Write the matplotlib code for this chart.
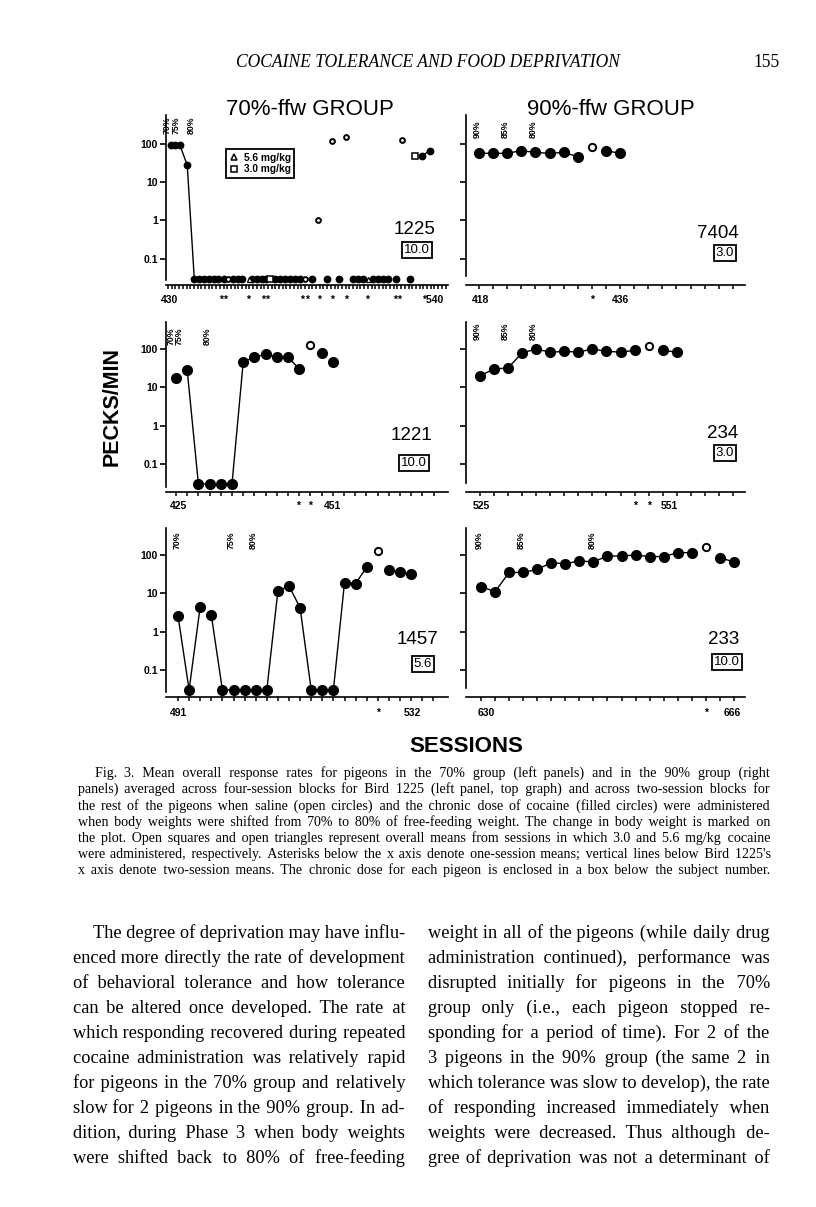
#!/usr/bin/env python3
"""
Fig. 3 page: pecks/min across sessions for the 70%-ffw and 90%-ffw groups,
with the figure caption and the running text below it.
"""
import matplotlib
matplotlib.use("Agg")
import matplotlib.pyplot as plt
from matplotlib import font_manager
from matplotlib.ft2font import FT2Font
from matplotlib.lines import Line2D
from matplotlib.ticker import NullLocator
from matplotlib.transforms import blended_transform_factory

W, H = 816, 1207
FLOOR = 0.03          # zero rates sit on this floor
SANS = "Liberation Sans"
SERIF = "Liberation Serif"

# ---------------- data ----------------
# x: position along the session axis in axis ticks, y: pecks/min (0 = no pecking)

# Bird 1225, 70% group (four-session blocks)
b1225_fx = [0.8, 2.0, 3.2, 5.2, 7.1, 8.4, 9.7, 11.1, 12.3, 13.6, 15.0, 17.6, 18.8,
            20.1, 22.7, 24.0, 25.3, 26.4, 28.9, 30.3, 31.6, 33.0, 34.3, 35.7, 39.0,
            42.9, 46.1, 50.1, 51.4, 52.8, 55.5, 56.8, 58.2, 59.5, 61.5, 65.4, 68.6, 70.8]
b1225_fy = [94, 94, 94, 28, 0, 0, 0, 0, 0, 0, 0, 0, 0,
            0, 0, 0, 0, 0, 0, 0, 0, 0, 0, 0, 0,
            0, 0, 0, 0, 0, 0, 0, 0, 0, 0, 0, 49, 67]
b1225_ox = [16.2, 37.0, 40.6, 44.4, 48.1, 63.2]
b1225_oy = [0, 0, 1.0, 122, 155, 127]
b1225_tri_x = [21.9, 54.1]        # 5.6 mg/kg
b1225_tri_y = [0, 0]
b1225_sq_x = [27.6, 66.8]         # 3.0 mg/kg
b1225_sq_y = [0, 49]
b1225_runs = [(0, 5), (36, 38)]
b1225_stars = [14.2, 15.4, 21.7, 25.8, 26.8, 36.1, 37.5, 40.9, 44.4, 48.1, 53.7, 61.4, 62.5]

# Bird 1221, 70% group
b1221_fx = [0, 1, 2, 3, 4, 5, 6, 7, 8, 9, 10, 11, 13, 14]
b1221_fy = [18, 28, 0, 0, 0, 0, 45, 62, 72, 62, 62, 30, 80, 45]
b1221_ox = [12]
b1221_oy = [130]
b1221_runs = [(1, 12)]
b1221_stars = [10.9, 12.0]

# Bird 1457, 70% group
b1457_fx = [0, 1, 2, 3, 4, 5, 6, 7, 8, 9, 10, 11, 12, 13, 14, 15, 16, 17, 19, 20, 21]
b1457_fy = [2.6, 0, 4.5, 2.7, 0, 0, 0, 0, 0, 11.5, 15.5, 4.2, 0, 0, 0, 19, 18, 48, 41, 35, 32]
b1457_ox = [18]
b1457_oy = [130]
b1457_runs = [(0, 3), (3, 18), (18, 21)]
b1457_stars = [18.0]

# Bird 7404, 90% group
b7404_fx = [0, 1, 2, 3, 4, 5, 6, 7, 9, 10]
b7404_fy = [57, 57, 57, 67, 60, 57, 60, 47, 67, 57]
b7404_ox = [8]
b7404_oy = [82]
b7404_runs = [(0, 8), (8, 10)]
b7404_stars = [8.0]

# Bird 234, 90% group
b234_fx = [0, 1, 2, 3, 4, 5, 6, 7, 8, 9, 10, 11, 13, 14]
b234_fy = [20, 30, 32, 79, 100, 82, 87, 83, 100, 87, 83, 92, 92, 83]
b234_ox = [12]
b234_oy = [117]
b234_runs = [(0, 12), (12, 14)]
b234_stars = [11.0, 12.0]

# Bird 233, 90% group
b233_fx = [0, 1, 2, 3, 4, 5, 6, 7, 8, 9, 10, 11, 12, 13, 14, 15, 17, 18]
b233_fy = [15, 11, 35, 35, 42, 63, 59, 70, 66, 94, 94, 100, 91, 91, 115, 115, 85, 66]
b233_ox = [16]
b233_oy = [165]
b233_runs = [(0, 16), (16, 18)]
b233_stars = [16.0]

group_titles = ["70%-ffw GROUP", "90%-ffw GROUP"]
y_ticks = [0.1, 1, 10, 100]
y_ticklabels = ["0.1", "1", "10", "100"]

header = "COCAINE TOLERANCE AND FOOD DEPRIVATION"
page_no = "155"

caption = [
    "Fig. 3.  Mean overall response rates for pigeons in the 70% group (left panels) and in the 90% group (right",
    "panels) averaged across four-session blocks for Bird 1225 (left panel, top graph) and across two-session blocks for",
    "the rest of the pigeons when saline (open circles) and the chronic dose of cocaine (filled circles) were administered",
    "when body weights were shifted from 70% to 80% of free-feeding weight. The change in body weight is marked on",
    "the plot. Open squares and open triangles represent overall means from sessions in which 3.0 and 5.6 mg/kg cocaine",
    "were administered, respectively. Asterisks below the x axis denote one-session means; vertical lines below Bird 1225's",
    "x axis denote two-session means. The chronic dose for each pigeon is enclosed in a box below the subject number.",
]
body_left = [
    "The degree of deprivation may have influ-",
    "enced more directly the rate of development",
    "of behavioral tolerance and how tolerance",
    "can be altered once developed. The rate at",
    "which responding recovered during repeated",
    "cocaine administration was relatively rapid",
    "for pigeons in the 70% group and relatively",
    "slow for 2 pigeons in the 90% group. In ad-",
    "dition, during Phase 3 when body weights",
    "were shifted back to 80% of free-feeding",
]
body_right = [
    "weight in all of the pigeons (while daily drug",
    "administration continued), performance was",
    "disrupted initially for pigeons in the 70%",
    "group only (i.e., each pigeon stopped re-",
    "sponding for a period of time). For 2 of the",
    "3 pigeons in the 90% group (the same 2 in",
    "which tolerance was slow to develop), the rate",
    "of responding increased immediately when",
    "weights were decreased. Thus although de-",
    "gree of deprivation was not a determinant of",
]

# ---------------- layout ----------------
# columns: (y-axis x, x-axis right end) in pixels
COLS = [(166, 448), (466, 745)]
# rows: (top px, x-axis px, log10 bottom, log10 top, tick-label y px)
ROWS = [(115, 285, -1.691, 2.759, 300),
        (322, 492, -1.734, 2.705, 506),
        (528, 697, -1.708, 2.705, 713)]

panels = [
    dict(name="1225", dose="10.0", col=0, row=0, fx=b1225_fx, fy=b1225_fy, ox=b1225_ox, oy=b1225_oy,
         runs=b1225_runs, stars=b1225_stars, tick0=168, step=3.7, nticks=76,
         xlabels=[(0.5, "430", "center"), (74.3, "*540", "right")], weights=["70%", "75%", "80%"],
         weight_x=[-0.3, 2.3, 6.4], weight_top=116, id_xy=(415, 230), dose_xy=(417, 250), ms=4.6),
    dict(name="1221", dose="10.0", col=0, row=1, fx=b1221_fx, fy=b1221_fy, ox=b1221_ox, oy=b1221_oy,
         runs=b1221_runs, stars=b1221_stars, tick0=176, step=11.2, nticks=24,
         xlabels=[(0.2, "425", "center"), (14.0, "451", "center")], weights=["70%", "75%", "80%"],
         weight_x=[-0.45, 0.3, 2.8], weight_top=327, id_xy=(411, 435), dose_xy=(414, 463), ms=7),
    dict(name="1457", dose="5.6", col=0, row=2, fx=b1457_fx, fy=b1457_fy, ox=b1457_ox, oy=b1457_oy,
         runs=b1457_runs, stars=b1457_stars, tick0=178, step=11.1, nticks=24,
         xlabels=[(0.0, "491", "center"), (21.1, "532", "center")], weights=["70%", "75%", "80%"],
         weight_x=[-0.1, 4.8, 6.8], weight_top=532, id_xy=(418, 639), dose_xy=(423, 664), ms=7),
    dict(name="7404", dose="3.0", col=1, row=0, fx=b7404_fx, fy=b7404_fy, ox=b7404_ox, oy=b7404_oy,
         runs=b7404_runs, stars=b7404_stars, tick0=479, step=14.1, nticks=19,
         xlabels=[(0.1, "418", "center"), (10.0, "436", "center")], weights=["90%", "85%", "80%"],
         weight_x=[-0.1, 1.84, 3.85], weight_top=120, id_xy=(718, 233), dose_xy=(725, 253), ms=7),
    dict(name="234", dose="3.0", col=1, row=1, fx=b234_fx, fy=b234_fy, ox=b234_ox, oy=b234_oy,
         runs=b234_runs, stars=b234_stars, tick0=480, step=14.05, nticks=19,
         xlabels=[(0.1, "525", "center"), (13.5, "551", "center")], weights=["90%", "85%", "80%"],
         weight_x=[-0.2, 1.78, 3.8], weight_top=322, id_xy=(723, 434), dose_xy=(725, 453), ms=7),
    dict(name="233", dose="10.0", col=1, row=2, fx=b233_fx, fy=b233_fy, ox=b233_ox, oy=b233_oy,
         runs=b233_runs, stars=b233_stars, tick0=481, step=14.05, nticks=19,
         xlabels=[(0.4, "630", "center"), (17.9, "666", "center")], weights=["90%", "85%", "80%"],
         weight_x=[-0.1, 2.9, 7.9], weight_top=532, id_xy=(724, 639), dose_xy=(727, 662), ms=7),
]

fig = plt.figure(figsize=(W / 100, H / 100), dpi=100)
fig.patch.set_facecolor("white")


def fpt(x, y):
    """pixel (from top-left) -> figure fraction"""
    return x / W, 1 - y / H


def floor(vals):
    return [v if v > 0 else FLOOR for v in vals]


for p in panels:
    left, right = COLS[p["col"]]
    top, bottom, lo, hi, lab_y = ROWS[p["row"]]
    x0, y0 = fpt(left, bottom)
    ax = fig.add_axes([x0, y0, (right - left) / W, (bottom - top) / H])
    ax.patch.set_visible(False)
    ax.set_yscale("log")
    ax.set_ylim(10 ** lo, 10 ** hi)
    ax.set_xlim((left - p["tick0"]) / p["step"], (right - p["tick0"]) / p["step"])
    for s in ("top", "right"):
        ax.spines[s].set_visible(False)
    gap = 5 if p["col"] == 0 else 9
    ax.spines["left"].set_bounds(10 ** (lo + gap / 38.2), 10 ** hi)
    ax.spines["left"].set_linewidth(1.2)
    ax.spines["bottom"].set_linewidth(1.2)

    ax.set_yticks(y_ticks)
    ax.yaxis.set_minor_locator(NullLocator())
    if p["col"] == 0:
        ax.set_yticklabels(y_ticklabels, fontsize=7.5, fontweight="bold", family=SANS)
    else:
        ax.set_yticklabels([])
    ax.tick_params(axis="y", length=4, width=1.2, pad=2)
    ax.set_xticks(range(p["nticks"]))
    ax.set_xticklabels([])
    ax.tick_params(axis="x", length=3, width=1.1)

    # filled circles (chronic cocaine), joined within runs
    fy = floor(p["fy"])
    for a, b in p["runs"]:
        ax.plot(p["fx"][a:b], fy[a:b], color="black", lw=1.0, zorder=2)
    ax.plot(p["fx"], fy, ls="", marker="o", ms=p["ms"], mfc="black", mec="black", zorder=3)
    # open circles (saline)
    ax.plot(p["ox"], floor(p["oy"]), ls="", marker="o", ms=p["ms"] * 0.75,
            mfc="white", mec="black", mew=1.4, zorder=4)
    if p["name"] == "1225":
        ax.plot(b1225_tri_x, floor(b1225_tri_y), ls="", marker="^", ms=3.6,
                mfc="white", mec="black", mew=0.9, zorder=4)
        ax.plot(b1225_sq_x, floor(b1225_sq_y), ls="", marker="s", ms=4.2,
                mfc="white", mec="black", mew=1.1, zorder=4)
        handles = [Line2D([], [], ls="", marker="^", ms=5, mfc="white", mec="black", mew=1.1),
                   Line2D([], [], ls="", marker="s", ms=5, mfc="white", mec="black", mew=1.1)]
        leg = ax.legend(handles, ["5.6 mg/kg", "3.0 mg/kg"], loc="upper left",
                        bbox_to_anchor=fpt(226, 149), bbox_transform=fig.transFigure,
                        fancybox=False, edgecolor="black", framealpha=1,
                        prop=dict(family=SANS, weight="bold", size=7.3),
                        handlelength=0.8, handletextpad=0.6, borderpad=0.35,
                        labelspacing=0.15, borderaxespad=0)
        leg.get_frame().set_linewidth(1.3)

    # x labels, asterisks and body-weight marks
    tr = blended_transform_factory(ax.transData, fig.transFigure)
    ylab = 1 - lab_y / H
    for xv, s, ha in p["xlabels"]:
        ax.text(xv, ylab, s, transform=tr, ha=ha, va="center",
                fontsize=7.5, fontweight="bold", family=SANS)
    for xv in p["stars"]:
        ax.text(xv, ylab, "*", transform=tr, ha="center", va="center",
                fontsize=7.5, fontweight="bold", family=SANS)
    for xv, s in zip(p["weight_x"], p["weights"]):
        ax.text(xv, 1 - p["weight_top"] / H, s, transform=tr, rotation=90, ha="center",
                va="top", fontsize=6.3, fontweight="bold", family=SANS)

    # subject number and boxed chronic dose
    fig.text(*fpt(*p["id_xy"]), p["name"], ha="center", va="center", fontsize=13.5, family=SANS)
    fig.text(*fpt(*p["dose_xy"]), p["dose"], ha="center", va="center", fontsize=9.5, family=SANS,
             bbox=dict(boxstyle="square,pad=0.12", fc="white", ec="black", lw=1.3))

fig.text(*fpt(310, 115), group_titles[0], ha="center", va="baseline", fontsize=16, family=SANS)
fig.text(*fpt(611, 115), group_titles[1], ha="center", va="baseline", fontsize=16, family=SANS)
fig.text(*fpt(112, 407), "PECKS/MIN", rotation=90, ha="center", va="center",
         fontsize=15.5, fontweight="bold", family=SANS)
fig.text(*fpt(466, 746), "SESSIONS", ha="center", va="center",
         fontsize=16, fontweight="bold", family=SANS)

# ---------------- page text ----------------
renderer = fig.canvas.get_renderer()
SERIF_LIST = [SERIF, "DejaVu Serif"]


def has_glyph(family, ch):
    path = font_manager.findfont(font_manager.FontProperties(family=family))
    return FT2Font(path).get_char_index(ord(ch)) != 0


# hair spaces stretch the word gaps of justified lines
PAD = "\u200a" if any(has_glyph(f, "\u200a") for f in SERIF_LIST) else " "


def measure(s, **kw):
    t = fig.text(0, 0, s, **kw)
    w = t.get_window_extent(renderer).width
    t.remove()
    return w


def fit_size(lines, width, **kw):
    ratio = min(width / measure(s, fontsize=10, **kw) for s in lines)
    return 10 * ratio * 0.985


def put_line(s, x0, x1, y, **kw):
    words = s.split()
    n = len(words) - 1
    pw = (measure("a" + PAD * 10 + "a", **kw) - measure("aa", **kw)) / 10
    k = max(0, int(round((x1 - x0 - measure(" ".join(words), **kw)) / pw)))
    line = words[0]
    for i, w in enumerate(words[1:]):
        line += " " + PAD * (k * (i + 1) // n - k * i // n) + w
    fig.text(*fpt(x0, y), line, va="baseline", **kw)


def paragraph(lines, x0, x1, y_first, dy, indent, size):
    for i, s in enumerate(lines):
        put_line(s, x0 + (indent if i == 0 else 0), x1, y_first + i * dy,
                 fontsize=size, family=SERIF_LIST)


hsize = 10 * 384 / measure(header, fontsize=10, family=SERIF, style="italic")
fig.text(*fpt(236, 67), header, va="baseline", fontsize=hsize, family=SERIF, style="italic")
fig.text(*fpt(780, 67), page_no, ha="right", va="baseline", fontsize=hsize, family=SERIF)

csize = fit_size(caption, 692 - 17, family=SERIF_LIST)
paragraph(caption, 78, 770, 777, 16.2, 17, csize)

bsize = fit_size(body_left, 332, family=SERIF_LIST)
paragraph(body_left, 73, 405, 938, 25, 20, bsize)
paragraph(body_right, 428, 770, 938, 25, 0, bsize)

fig.savefig("out.png", dpi=100, facecolor="white")
